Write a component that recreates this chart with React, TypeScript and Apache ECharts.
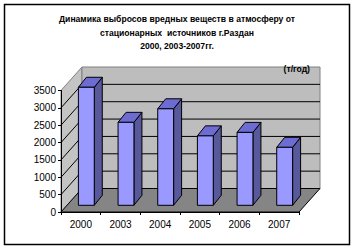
import React, { useEffect, useRef } from "react";
import * as echarts from "echarts";

const titleLines = [
  "Динамика выбросов вредных веществ в атмосферу от",
  "стационарных  источников г.Раздан",
  "2000, 2003-2007гг.",
];
const unitLabel = "(т/год)";
const categories = ["2000", "2003", "2004", "2005", "2006", "2007"];
const values = [3400, 2390, 2780, 2000, 2100, 1670];
const yTicks = [0, 500, 1000, 1500, 2000, 2500, 3000, 3500];

const DX = 21;
const DY = -23.5;
const FDX = 5.5;
const FDY = -6.7;
const BDX = 8;
const BDY = -10;

export default function App() {
  const ref = useRef<HTMLDivElement>(null);
  useEffect(() => {
    const chart = echarts.init(ref.current!, null, { renderer: "svg" });
    const font = "'Liberation Sans', Arial, sans-serif";
    const titleY = [19, 33, 46];
    chart.setOption({
      animation: false,
      backgroundColor: "#ffffff",
      graphic: [
        {
          type: "rect",
          z: 100,
          shape: { x: 4.5, y: 4.5, width: 345, height: 240 },
          style: { fill: "none", stroke: "#000", lineWidth: 1.5 },
        },
        ...titleLines.map((t, i) => ({
          type: "text",
          z: 100,
          x: 177,
          y: titleY[i],
          style: {
            text: t,
            fontFamily: font,
            fontSize: 8.6,
            fontWeight: "bold",
            fill: "#000",
            align: "center",
            verticalAlign: "middle",
          },
        })),
        {
          type: "text",
          z: 100,
          x: 310,
          y: 69,
          style: {
            text: unitLabel,
            fontFamily: font,
            fontSize: 8.6,
            fontWeight: "bold",
            fill: "#000",
            align: "right",
            verticalAlign: "middle",
          },
        },
      ],
      grid: { left: 61, right: 56, top: 90.5, bottom: 38 },
      xAxis: {
        type: "category",
        data: categories,
        z: 5,
        axisLine: { lineStyle: { color: "#000", width: 1 } },
        axisTick: { show: true, length: 3, lineStyle: { color: "#000" } },
        axisLabel: { color: "#000", fontFamily: font, fontSize: 10, margin: 7 },
      },
      yAxis: {
        type: "value",
        min: yTicks[0],
        max: yTicks[yTicks.length - 1],
        interval: yTicks[1] - yTicks[0],
        z: 5,
        axisLine: { show: true, lineStyle: { color: "#000", width: 1 } },
        axisTick: { show: true, length: 3, lineStyle: { color: "#000" } },
        axisLabel: {
          color: "#000",
          fontFamily: font,
          fontSize: 10,
          margin: 5,
          formatter: (v: number) => String(v),
        },
        splitLine: { show: false },
      },
      series: [
        {
          type: "custom",
          z: 1,
          silent: true,
          data: [[0, 0]],
          renderItem: (params: any, api: any) => {
            const cs = params.coordSys;
            const x0 = cs.x, y0 = cs.y, w = cs.width, h = cs.height;
            const children: any[] = [];
            children.push({
              type: "polygon",
              shape: { points: [[x0, y0 + h], [x0, y0], [x0 + DX, y0 + DY], [x0 + DX, y0 + h + DY]] },
              style: { fill: "#c4c4c4", stroke: "#808080", lineWidth: 1 },
            });
            children.push({
              type: "rect",
              shape: { x: x0 + DX, y: y0 + DY, width: w, height: h },
              style: { fill: "#bdbdbd", stroke: "#808080", lineWidth: 1 },
            });
            for (let i = 1; i < yTicks.length - 1; i++) {
              const y = api.coord([0, yTicks[i]])[1];
              children.push({
                type: "line",
                shape: { x1: x0 + DX, y1: y + DY, x2: x0 + w + DX, y2: y + DY },
                style: { stroke: "#000", lineWidth: 1 },
              });
              children.push({
                type: "line",
                shape: { x1: x0, y1: y, x2: x0 + DX, y2: y + DY },
                style: { stroke: "#000", lineWidth: 1 },
              });
            }
            children.push({
              type: "polygon",
              shape: { points: [[x0, y0 + h], [x0 + w, y0 + h], [x0 + w + DX, y0 + h + DY], [x0 + DX, y0 + h + DY]] },
              style: { fill: "#858585", stroke: "#000", lineWidth: 1 },
            });
            return { type: "group", children };
          },
        },
        {
          type: "custom",
          z: 2,
          data: values.map((v, i) => [i, v]),
          renderItem: (params: any, api: any) => {
            const idx = api.value(0);
            const [cx, by] = api.coord([idx, 0]);
            const ty = api.coord([idx, api.value(1)])[1];
            const bw = api.size([1, 0])[0] * 0.4;
            const l = cx + FDX - bw / 2;
            const r = l + bw;
            const t = ty + FDY;
            const b = by + FDY;
            const st = { stroke: "#000", lineWidth: 1 };
            return {
              type: "group",
              children: [
                {
                  type: "polygon",
                  shape: { points: [[r, t], [r + BDX, t + BDY], [r + BDX, b + BDY], [r, b]] },
                  style: { fill: "#58589c", ...st },
                },
                {
                  type: "polygon",
                  shape: { points: [[l, t], [r, t], [r + BDX, t + BDY], [l + BDX, t + BDY]] },
                  style: { fill: "#6c6cd2", ...st },
                },
                {
                  type: "rect",
                  shape: { x: l, y: t, width: bw, height: b - t },
                  style: { fill: "#9999ff", ...st },
                },
              ],
            };
          },
        },
      ],
    });
    return () => chart.dispose();
  }, []);
  return <div ref={ref} style={{ width: 355, height: 250, position: "absolute", left: 0, top: 0 }} />;
}
